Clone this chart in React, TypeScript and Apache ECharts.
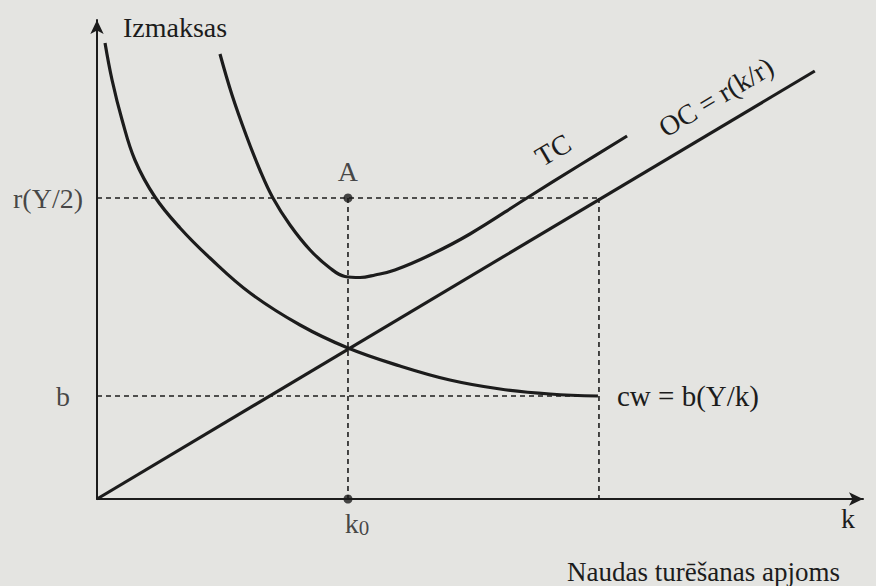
import React, { useEffect, useRef } from "react";
import * as echarts from "echarts";

// Data (k = money held, value = cost)
const cwK = [0.032, 0.06, 0.1, 0.151, 0.231, 0.331, 0.45, 0.61, 0.809, 1.0, 1.207, 1.406, 1.606, 1.805, 1.996];
const cwV = [4.56, 4.19, 3.79, 3.39, 3.02, 2.71, 2.41, 2.06, 1.74, 1.51, 1.33, 1.19, 1.1, 1.05, 1.03];

const tcK = [0.49, 0.538, 0.594, 0.649, 0.701, 0.769, 0.849, 0.928, 0.988, 1.048, 1.108, 1.187, 1.327, 1.486, 1.713, 1.924, 2.112];
const tcV = [4.45, 4.04, 3.64, 3.29, 3.01, 2.74, 2.49, 2.31, 2.225, 2.215, 2.24, 2.29, 2.44, 2.65, 3.01, 3.34, 3.63];

const ocK = [0, 2.86];
const ocV = [0, 4.28];

const k0 = 1;
const kHalf = 2;
const rLevel = 3.01;
const bLevel = 1.03;

const INK = "#1c1c1c";
const FONT = "'Liberation Serif', 'Times New Roman', serif";

export default function App() {
  const ref = useRef<HTMLDivElement>(null);
  useEffect(() => {
    if (!ref.current) return;
    const chart = echarts.init(ref.current, null, { renderer: "svg" });
    const pairs = (ks: number[], vs: number[]) => ks.map((k, i) => [k, vs[i]]);
    const dashed = (data: number[][]) => ({
      type: "line",
      data,
      showSymbol: false,
      silent: true,
      lineStyle: { color: INK, width: 1.6, type: [5, 4] },
      z: 1,
    });
    const curveStyle = { color: INK, width: 3.2 };
    chart.setOption({
      animation: false,
      backgroundColor: "#e4e4e1",
      grid: { left: 97, right: 13, top: 20, bottom: 87 },
      xAxis: {
        type: "value",
        min: 0,
        max: 3.052,
        axisLine: { show: true, onZero: false, symbol: ["none", "arrow"], symbolSize: [10, 14], lineStyle: { color: INK, width: 2 } },
        axisTick: { show: false },
        axisLabel: { show: false },
        splitLine: { show: false },
      },
      yAxis: {
        type: "value",
        min: 0,
        max: 4.79,
        axisLine: { show: true, onZero: false, symbol: ["none", "arrow"], symbolSize: [10, 14], lineStyle: { color: INK, width: 2 } },
        axisTick: { show: false },
        axisLabel: { show: false },
        splitLine: { show: false },
      },
      series: [
        dashed([[0, rLevel], [kHalf, rLevel]]),
        dashed([[k0, rLevel], [k0, 0]]),
        dashed([[kHalf, rLevel], [kHalf, 0]]),
        dashed([[0, bLevel], [kHalf, bLevel]]),
        {
          name: "cw",
          type: "line",
          smooth: 0.4,
          showSymbol: false,
          data: pairs(cwK, cwV),
          lineStyle: curveStyle,
          z: 3,
          endLabel: {
            show: true,
            formatter: "cw = b(Y/k)",
            color: INK,
            fontFamily: FONT,
            fontSize: 29,
            distance: 19,
          },
        },
        {
          name: "TC",
          type: "line",
          smooth: 0.4,
          showSymbol: false,
          data: pairs(tcK, tcV),
          lineStyle: curveStyle,
          z: 3,
        },
        {
          name: "OC",
          type: "line",
          showSymbol: false,
          data: pairs(ocK, ocV),
          lineStyle: curveStyle,
          z: 3,
        },
        {
          type: "scatter",
          symbolSize: 9,
          itemStyle: { color: INK },
          z: 4,
          data: [
            { value: [k0, rLevel], label: { show: true, position: "top", formatter: "A", distance: 8, color: INK, fontFamily: FONT, fontSize: 28 } },
            {
              value: [k0, 0],
              label: {
                show: true,
                position: "bottom",
                distance: 4,
                offset: [9, 0],
                formatter: "k{s|0}",
                color: INK,
                fontFamily: FONT,
                fontSize: 28,
                rich: { s: { fontSize: 21, fontFamily: FONT, color: INK, verticalAlign: "bottom", padding: [10, 0, 0, 0] } },
              },
            },
          ],
        },
        {
          type: "scatter",
          symbolSize: 0,
          silent: true,
          data: [
            { value: [0, rLevel], label: { show: true, position: "left", formatter: "r(Y/2)", distance: 14, color: INK, fontFamily: FONT, fontSize: 28 } },
            { value: [0, bLevel], label: { show: true, position: "left", formatter: "b", distance: 27, color: INK, fontFamily: FONT, fontSize: 28 } },
          ],
        },
      ],
      graphic: [
        { type: "text", x: 123, y: 27, style: { text: "Izmaksas", fill: INK, font: `28px ${FONT}`, verticalAlign: "middle" } },
        { type: "text", x: 848, y: 518, style: { text: "k", fill: INK, font: `28px ${FONT}`, align: "center", verticalAlign: "middle" } },
        { type: "text", x: 840, y: 572, style: { text: "Naudas turēšanas apjoms", fill: INK, font: `27px ${FONT}`, align: "right", verticalAlign: "middle" } },
        { type: "text", x: 553, y: 150, rotation: 0.53, style: { text: "TC", fill: INK, font: `28px ${FONT}`, align: "center", verticalAlign: "middle" } },
        { type: "text", x: 716, y: 97, rotation: 0.54, style: { text: "OC = r(k/r)", fill: INK, font: `28px ${FONT}`, align: "center", verticalAlign: "middle" } },
      ],
    });
    return () => chart.dispose();
  }, []);
  return (
    <div
      ref={ref}
      style={{ position: "absolute", left: 0, top: 0, width: 876, height: 586 }}
    />
  );
}
